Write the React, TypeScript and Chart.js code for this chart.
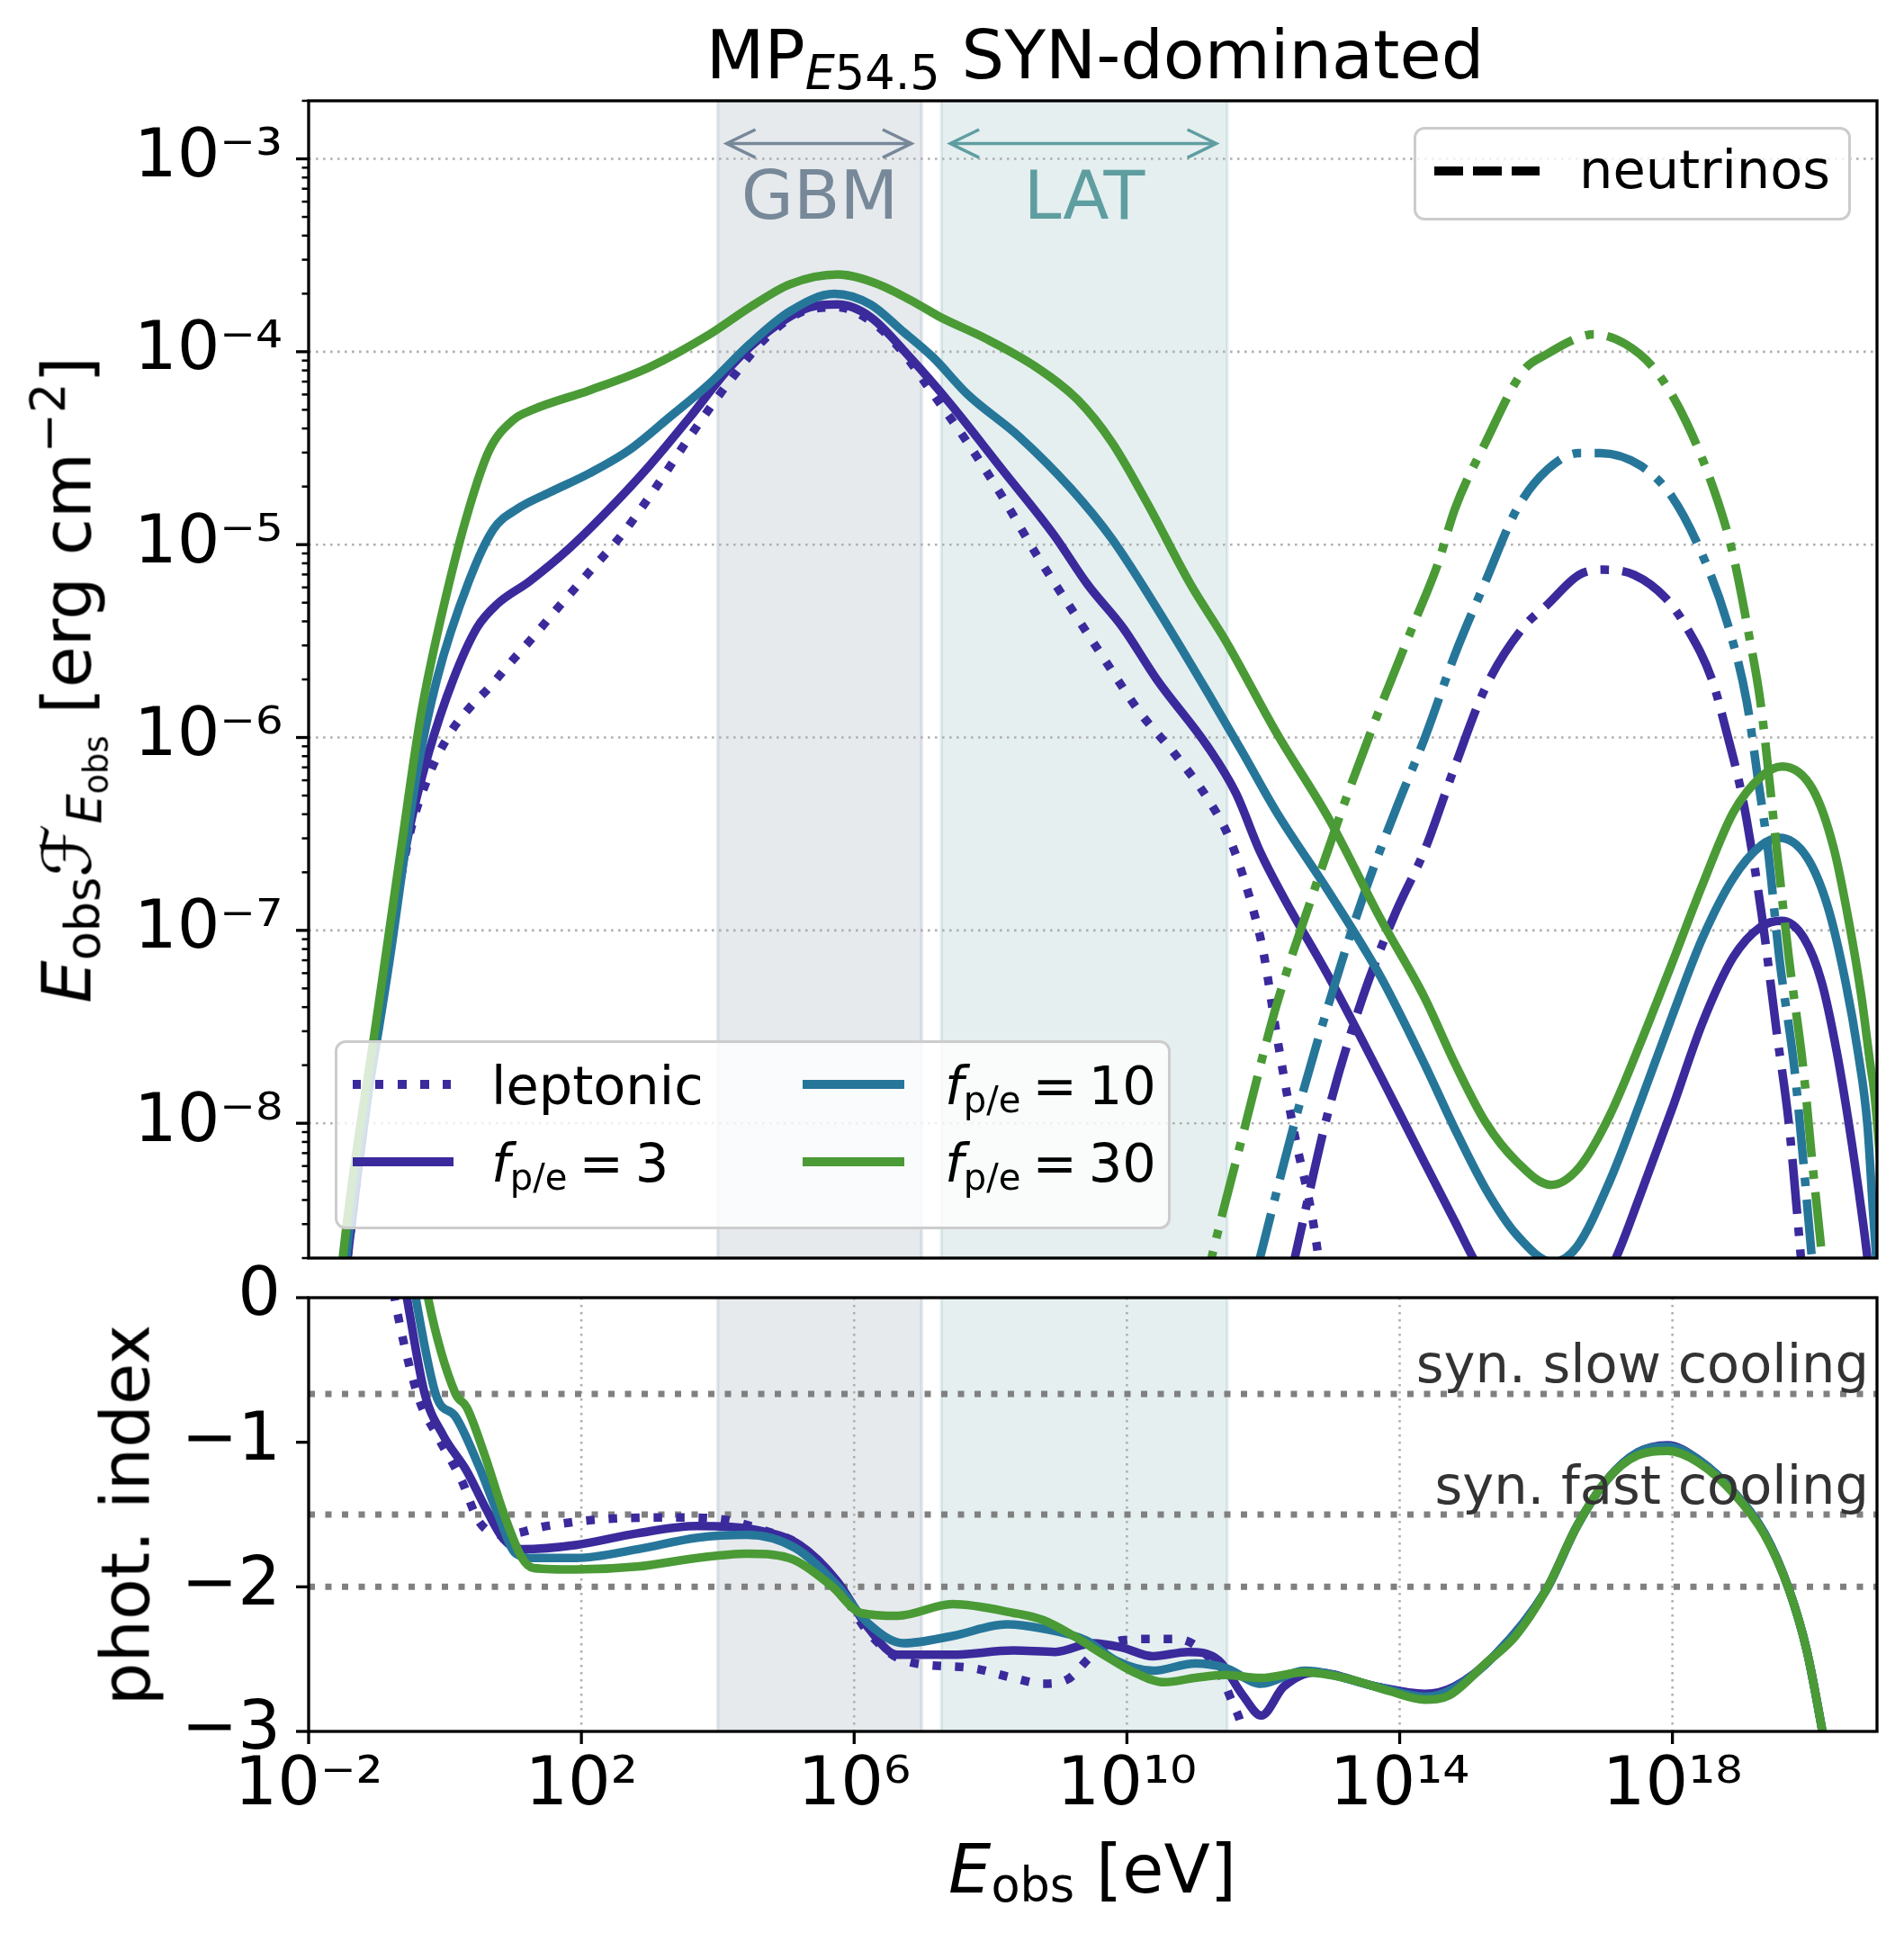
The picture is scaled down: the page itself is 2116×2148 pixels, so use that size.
import React, { useEffect, useRef } from "react";
import { Chart, registerables } from "chart.js";

Chart.register(...registerables);

// ====================== DATA ======================
// SED curves: [log10(E_obs / eV), log10(E F_E / erg cm^-2)]
const sedLeptonic = [
  [-1.65, -9.5], [-1.43, -8.7], [-0.82, -7.1], [-0.53, -6.52], [-0.24, -6.2], [0.07, -5.98],
  [0.35, -5.85], [0.65, -5.74], [0.94, -5.62], [1.29, -5.48], [1.65, -5.33], [2.12, -5.14],
  [2.59, -4.95], [3.06, -4.72], [3.59, -4.44], [4.18, -4.15], [4.76, -3.91], [5.35, -3.78],
  [5.76, -3.77], [6.24, -3.84], [6.66, -3.98], [7.16, -4.22], [7.66, -4.47], [8.17, -4.75],
  [8.67, -5.05], [9.18, -5.33], [9.68, -5.6], [10.19, -5.87], [10.69, -6.08], [11.19, -6.32],
  [11.5, -6.52], [11.8, -6.83], [12.0, -7.11], [12.2, -7.55], [12.46, -8.06], [12.71, -8.47],
  [12.81, -8.7], [13.0, -9.3],
];
const sedFpe3 = [
  [-1.65, -9.5], [-1.43, -8.7], [-0.82, -7.1], [-0.53, -6.49], [-0.24, -6.08], [0.12, -5.7],
  [0.47, -5.43], [0.76, -5.31], [1.24, -5.19], [1.82, -5.02], [2.41, -4.815], [3.0, -4.59],
  [3.59, -4.34], [4.18, -4.08], [4.76, -3.89], [5.35, -3.77], [5.76, -3.755], [6.24, -3.82],
  [6.82, -4.03], [7.41, -4.27], [8.17, -4.61], [8.93, -4.95], [9.43, -5.21], [9.94, -5.43],
  [10.44, -5.7], [11.19, -6.05], [11.6, -6.29], [11.95, -6.59], [12.3, -6.83], [12.96, -7.24],
  [13.72, -7.755], [14.36, -8.2], [14.81, -8.51], [15.08, -8.7], [15.6, -9.0], [16.2, -9.15],
  [16.8, -8.95], [17.17, -8.7], [17.53, -8.37], [17.99, -7.93], [18.44, -7.48], [18.89, -7.14],
  [19.3, -6.98], [19.6, -6.95], [19.93, -7.04], [20.19, -7.27], [20.41, -7.63], [20.59, -8.01],
  [20.77, -8.45], [20.86, -8.7], [21.0, -9.2],
];
const sedFpe10 = [
  [-1.65, -9.5], [-1.45, -8.7], [-0.79, -7.1], [-0.41, -6.18], [-0.12, -5.7], [0.35, -5.19],
  [0.71, -4.92], [1.06, -4.815], [1.53, -4.73], [2.12, -4.63], [2.7, -4.51], [3.29, -4.34],
  [3.88, -4.165], [4.47, -3.96], [5.06, -3.79], [5.71, -3.7], [6.24, -3.755], [6.7, -3.89],
  [7.16, -4.03], [7.66, -4.22], [8.42, -4.44], [9.18, -4.71], [9.78, -4.97], [10.44, -5.33],
  [11.19, -5.77], [11.7, -6.08], [12.2, -6.39], [12.96, -6.8], [13.72, -7.24], [14.36, -7.69],
  [14.81, -8.03], [15.26, -8.34], [15.72, -8.58], [16.25, -8.72], [16.6, -8.64], [17.08, -8.3],
  [17.53, -7.89], [17.99, -7.45], [18.44, -7.04], [18.89, -6.73], [19.3, -6.56], [19.57, -6.52],
  [19.97, -6.62], [20.28, -6.88], [20.54, -7.27], [20.72, -7.63], [20.86, -8.01], [20.94, -8.45],
  [21.02, -8.85],
];
const sedFpe30 = [
  [-1.7, -9.5], [-1.5, -8.7], [-1.0, -7.45], [-0.65, -6.59], [-0.35, -5.875], [0.0, -5.29],
  [0.35, -4.815], [0.65, -4.51], [1.0, -4.354], [1.29, -4.3], [2.12, -4.2], [3.0, -4.08],
  [3.88, -3.91], [4.47, -3.77], [5.06, -3.65], [5.76, -3.6], [6.35, -3.65], [6.94, -3.755],
  [7.26, -3.82], [7.92, -3.93], [8.67, -4.08], [9.28, -4.25], [9.78, -4.47], [10.29, -4.78],
  [10.94, -5.21], [11.45, -5.5], [12.2, -5.98], [12.96, -6.42], [13.72, -6.94], [14.36, -7.345],
  [14.81, -7.69], [15.26, -7.995], [15.72, -8.2], [16.22, -8.32], [16.63, -8.23], [17.08, -7.96],
  [17.53, -7.585], [17.99, -7.174], [18.44, -6.764], [18.89, -6.39], [19.31, -6.2], [19.61, -6.15],
  [20.06, -6.27], [20.37, -6.58], [20.59, -6.96], [20.77, -7.34], [20.9, -7.69], [20.96, -7.84],
  [21.05, -8.2],
];
// Neutrino curves: [log10(E_obs / eV), log10(E F_E / erg cm^-2)]
const nuFpe3 = [
  [12.1, -9.25], [12.46, -8.7], [12.96, -7.93], [13.46, -7.345], [13.95, -6.9], [14.36, -6.59],
  [14.81, -6.15], [15.26, -5.74], [15.81, -5.43], [16.17, -5.31], [16.63, -5.157], [16.99, -5.13],
  [17.44, -5.157], [17.9, -5.277], [18.21, -5.43], [18.58, -5.7], [18.8, -5.98], [18.99, -6.25],
  [19.09, -6.43], [19.31, -6.92], [19.53, -7.53], [19.71, -8.01], [19.88, -8.68], [20.0, -9.2],
];
const nuFpe10 = [
  [11.6, -9.2], [11.95, -8.7], [12.46, -7.995], [12.96, -7.38], [13.46, -6.83], [13.97, -6.35],
  [14.36, -6.01], [14.81, -5.57], [15.26, -5.19], [15.72, -4.815], [16.17, -4.61], [16.63, -4.525],
  [16.94, -4.525], [17.53, -4.59], [17.99, -4.75], [18.44, -5.054], [18.8, -5.4], [19.09, -5.815],
  [19.26, -6.23], [19.4, -6.58], [19.57, -7.15], [19.79, -7.72], [19.92, -8.2], [20.04, -8.68],
  [20.2, -9.3],
];
const nuFpe30 = [
  [10.8, -9.4], [11.24, -8.7], [11.7, -8.06], [12.2, -7.38], [12.71, -6.83], [13.21, -6.32],
  [13.72, -5.84], [14.22, -5.4], [14.56, -5.1], [14.81, -4.815], [15.26, -4.47], [15.81, -4.1],
  [16.17, -4.01], [16.63, -3.926], [16.85, -3.91], [17.31, -3.96], [17.76, -4.1], [18.21, -4.37],
  [18.67, -4.78], [18.89, -5.054], [19.12, -5.465], [19.29, -5.815], [19.53, -6.58], [19.71, -7.15],
  [19.92, -7.72], [20.05, -8.2], [20.19, -8.68], [20.35, -9.3],
];
// Photon index: [log10(E_obs / eV), index]
const idxLeptonic = [
  [-0.9, 0.5], [-0.74, 0], [-0.39, -0.69], [-0.12, -0.95], [0.24, -1.26], [0.5, -1.55],
  [0.86, -1.64], [1.48, -1.58], [2.37, -1.53], [3.52, -1.52], [4.15, -1.54], [4.68, -1.61],
  [5.2, -1.71], [5.75, -1.99], [6.2, -2.31], [6.73, -2.51], [7.7, -2.56], [8.33, -2.63],
  [8.77, -2.67], [9.13, -2.64], [9.5, -2.47], [9.93, -2.37], [10.38, -2.36], [10.73, -2.36],
  [11.1, -2.44], [11.35, -2.59], [11.53, -2.78], [11.7, -3.0], [11.8, -3.3],
];
const idxFpe3 = [
  [-0.75, 0.5], [-0.56, 0], [-0.3, -0.66], [-0.03, -0.95], [0.32, -1.2], [0.59, -1.45],
  [0.86, -1.67], [1.13, -1.74], [1.93, -1.71], [2.82, -1.63], [3.7, -1.58], [4.6, -1.61],
  [5.2, -1.71], [5.75, -1.96], [6.2, -2.28], [6.64, -2.47], [7.44, -2.47], [8.33, -2.44],
  [8.95, -2.45], [9.5, -2.39], [9.93, -2.42], [10.38, -2.48], [10.9, -2.45], [11.35, -2.51],
  [11.7, -2.75], [11.97, -2.89], [12.3, -2.69], [12.77, -2.59], [13.66, -2.69], [14.37, -2.74],
  [14.8, -2.69], [15.4, -2.47], [16.15, -2.02], [16.6, -1.58], [17.04, -1.26], [17.49, -1.07],
  [17.93, -1.02], [18.38, -1.12], [18.91, -1.35], [19.35, -1.63], [19.71, -2.02], [19.97, -2.44],
  [20.2, -3.0], [20.35, -3.4],
];
const idxFpe10 = [
  [-0.6, 0.5], [-0.43, 0], [-0.12, -0.69], [0.15, -0.82], [0.5, -1.17], [0.77, -1.49],
  [1.04, -1.77], [1.3, -1.8], [1.93, -1.8], [2.82, -1.74], [3.7, -1.66], [4.42, -1.64],
  [5.13, -1.73], [5.75, -1.99], [6.2, -2.25], [6.73, -2.39], [7.44, -2.34], [8.24, -2.26],
  [8.77, -2.29], [9.4, -2.37], [9.84, -2.51], [10.38, -2.58], [11.0, -2.53], [11.44, -2.56],
  [11.97, -2.67], [12.6, -2.58], [13.66, -2.69], [14.37, -2.76], [14.8, -2.7], [15.4, -2.47],
  [16.15, -2.02], [16.6, -1.58], [17.04, -1.26], [17.49, -1.07], [17.93, -1.03], [18.38, -1.12],
  [18.91, -1.35], [19.35, -1.63], [19.71, -2.02], [19.97, -2.44], [20.2, -3.0], [20.35, -3.4],
];
const idxFpe30 = [
  [-0.42, 0.5], [-0.25, 0], [0.15, -0.66], [0.32, -0.76], [0.59, -1.1], [0.86, -1.49],
  [1.13, -1.8], [1.3, -1.87], [1.93, -1.88], [2.82, -1.86], [3.7, -1.8], [4.42, -1.77],
  [5.04, -1.8], [5.66, -1.99], [6.1, -2.18], [6.64, -2.2], [7.44, -2.12], [8.33, -2.18],
  [8.77, -2.23], [9.22, -2.34], [9.66, -2.47], [10.1, -2.59], [10.55, -2.66], [11.0, -2.63],
  [11.44, -2.61], [11.97, -2.63], [12.6, -2.59], [13.2, -2.63], [13.84, -2.72], [14.37, -2.78],
  [14.73, -2.75], [15.26, -2.53], [15.7, -2.34], [16.15, -2.02], [16.6, -1.58], [17.04, -1.26],
  [17.49, -1.09], [17.93, -1.06], [18.38, -1.14], [18.91, -1.36], [19.35, -1.64], [19.71, -2.02],
  [19.97, -2.44], [20.2, -3.0], [20.35, -3.4],
];

// Axes / ticks
const xLogMin = -2;
const xLogMax = 21;
const topYMin = 2e-9;
const topYMax = 2e-3;
const topYDecades = [-9, -8, -7, -6, -5, -4, -3];
const minorMantissas = [1, 2, 3, 4, 5, 6, 7, 8, 9];
const bottomXTickExps = [-2, 2, 6, 10, 14, 18];
const bottomYTicks = [-3, -2, -1, 0];

// Instrument bands (log10 E/eV)
const instrumentNames = ["GBM", "LAT"];
const instrumentLogLo = [4.0, 7.28];
const instrumentLogHi = [6.99, 11.47];
const arrowLogLo = [4.13, 7.41];
const arrowLogHi = [6.84, 11.31];
const arrowFlux = 1.2e-3;
const instrumentLabelFlux = 4.9e-4;

// Reference photon indices
const coolingIndex = [-2 / 3, -1.5, -2];
const coolingLabels = ["syn. slow cooling", "syn. fast cooling"];
const coolingLabelIdx = [-0.583, -1.423];
const coolingLabelLogE = 20.88;

// ====================== STYLE ======================
const FONT = "'DejaVu Sans', 'Noto Sans', sans-serif";
const BIG = 75;
const SMALL = 59;
const C_F3 = "#3a2a9c";
const C_F10 = "#26769a";
const C_F30 = "#4a9a36";
const LW = 9.5;
const DOT = [9.5, 15.5];
const DASHDOT = [61, 15, 9.5, 15];
const instrumentColor = ["#778899", "#5f9ea0"];
const instrumentFill = ["rgba(119,136,153,0.18)", "rgba(95,158,160,0.16)"];
const GRID_COLOR = "#b0b0b0";

const PLOT_LEFT = 343;
const PLOT_RIGHT = 2086;
const TOP_PLOT_TOP = 112;
const TOP_PLOT_BOTTOM = 1398;
const BOT_PLOT_TOP = 1442;
const BOT_PLOT_BOTTOM = 1924;
const TOP_CANVAS_H = 1420;
const BOT_CANVAS_TOP = 1395;
const BOT_CANVAS_H = 2148 - BOT_CANVAS_TOP;

const SUP: Record<string, string> = {
  "-": "\u207B", "0": "\u2070", "1": "\u00B9", "2": "\u00B2", "3": "\u00B3", "4": "\u2074",
  "5": "\u2075", "6": "\u2076", "7": "\u2077", "8": "\u2078", "9": "\u2079",
};
const pow10Label = (e: number) => "10" + String(e).split("").map((c) => SUP[c]).join("");
const isDecade = (v: number) => {
  const l = Math.log10(v);
  return Math.abs(l - Math.round(l)) < 1e-6;
};
const toPts = (arr: number[][], logY: boolean) =>
  arr.map(([e, v]) => ({ x: Math.pow(10, e), y: logY ? Math.pow(10, v) : v }));

function lineDs(label: string, data: any, color: string, dash: number[], order: number) {
  return {
    label,
    data,
    borderColor: color,
    backgroundColor: color,
    borderWidth: LW,
    borderDash: dash,
    borderCapStyle: "butt",
    borderJoinStyle: "round",
    pointRadius: 0,
    fill: false,
    cubicInterpolationMode: "monotone",
    clip: 0,
    order,
  };
}

function drawBands(ctx: CanvasRenderingContext2D, x: any, a: any) {
  for (let i = 0; i < instrumentNames.length; i++) {
    const x0 = x.getPixelForValue(Math.pow(10, instrumentLogLo[i]));
    const x1 = x.getPixelForValue(Math.pow(10, instrumentLogHi[i]));
    ctx.fillStyle = instrumentFill[i];
    ctx.fillRect(x0, a.top, x1 - x0, a.bottom - a.top);
    ctx.strokeStyle = instrumentFill[i];
    ctx.lineWidth = 3.5;
    ctx.setLineDash([]);
    ctx.beginPath();
    ctx.moveTo(x0, a.top);
    ctx.lineTo(x0, a.bottom);
    ctx.moveTo(x1, a.top);
    ctx.lineTo(x1, a.bottom);
    ctx.stroke();
  }
}

function drawFrame(ctx: CanvasRenderingContext2D, a: any) {
  ctx.setLineDash([]);
  ctx.strokeStyle = "#000";
  ctx.lineWidth = 3.3;
  ctx.strokeRect(a.left, a.top, a.right - a.left, a.bottom - a.top);
}

function drawYTicks(ctx: CanvasRenderingContext2D, y: any, a: any) {
  ctx.setLineDash([]);
  ctx.strokeStyle = "#000";
  for (const t of y.ticks) {
    const py = y.getPixelForValue(t.value);
    if (py < a.top - 1 || py > a.bottom + 1) continue;
    const major = t.label !== "";
    ctx.lineWidth = major ? 3.3 : 2.5;
    ctx.beginPath();
    ctx.moveTo(a.left, py);
    ctx.lineTo(a.left - (major ? 14 : 7.5), py);
    ctx.stroke();
  }
}

const topDecor = {
  id: "topDecor",
  beforeDatasetsDraw(chart: any) {
    const { ctx, chartArea: a } = chart;
    const x = chart.scales.x;
    const y = chart.scales.y;
    ctx.save();
    drawBands(ctx, x, a);
    ctx.strokeStyle = GRID_COLOR;
    ctx.lineWidth = 2.6;
    ctx.setLineDash([2.6, 5.4]);
    for (const t of y.ticks) {
      if (!t.label) continue;
      const py = y.getPixelForValue(t.value);
      ctx.beginPath();
      ctx.moveTo(a.left, py);
      ctx.lineTo(a.right, py);
      ctx.stroke();
    }
    ctx.restore();
  },
  afterDatasetsDraw(chart: any) {
    const { ctx, chartArea: a } = chart;
    const x = chart.scales.x;
    const y = chart.scales.y;
    ctx.save();
    const ay = y.getPixelForValue(arrowFlux);
    const ty = y.getPixelForValue(instrumentLabelFlux);
    for (let i = 0; i < instrumentNames.length; i++) {
      const x0 = x.getPixelForValue(Math.pow(10, arrowLogLo[i]));
      const x1 = x.getPixelForValue(Math.pow(10, arrowLogHi[i]));
      ctx.strokeStyle = instrumentColor[i];
      ctx.lineWidth = 3.5;
      ctx.setLineDash([]);
      ctx.lineCap = "butt";
      ctx.beginPath();
      ctx.moveTo(x0, ay);
      ctx.lineTo(x1, ay);
      ctx.moveTo(x0 + 32, ay - 15.6);
      ctx.lineTo(x0, ay);
      ctx.lineTo(x0 + 32, ay + 15.6);
      ctx.moveTo(x1 - 32, ay - 15.6);
      ctx.lineTo(x1, ay);
      ctx.lineTo(x1 - 32, ay + 15.6);
      ctx.stroke();
      const b0 = x.getPixelForValue(Math.pow(10, instrumentLogLo[i]));
      const b1 = x.getPixelForValue(Math.pow(10, instrumentLogHi[i]));
      ctx.fillStyle = instrumentColor[i];
      ctx.font = `${BIG}px ${FONT}`;
      ctx.textAlign = "center";
      ctx.textBaseline = "alphabetic";
      ctx.fillText(instrumentNames[i], (b0 + b1) / 2, ty);
    }
    drawFrame(ctx, a);
    drawYTicks(ctx, y, a);
    ctx.restore();
  },
};

const bottomDecor = {
  id: "bottomDecor",
  beforeDatasetsDraw(chart: any) {
    const { ctx, chartArea: a } = chart;
    const x = chart.scales.x;
    const y = chart.scales.y;
    ctx.save();
    drawBands(ctx, x, a);
    ctx.strokeStyle = GRID_COLOR;
    ctx.lineWidth = 2.6;
    ctx.setLineDash([2.6, 5.4]);
    for (const t of x.ticks) {
      const px = x.getPixelForValue(t.value);
      if (px <= a.left + 2 || px >= a.right - 2) continue;
      ctx.beginPath();
      ctx.moveTo(px, a.top);
      ctx.lineTo(px, a.bottom);
      ctx.stroke();
    }
    ctx.strokeStyle = "#808080";
    ctx.lineWidth = 7;
    ctx.setLineDash([7, 11.5]);
    for (const v of coolingIndex) {
      const py = y.getPixelForValue(v);
      ctx.beginPath();
      ctx.moveTo(a.left, py);
      ctx.lineTo(a.right, py);
      ctx.stroke();
    }
    ctx.restore();
  },
  afterDatasetsDraw(chart: any) {
    const { ctx, chartArea: a } = chart;
    const x = chart.scales.x;
    const y = chart.scales.y;
    ctx.save();
    ctx.fillStyle = "#333333";
    ctx.font = `${SMALL}px ${FONT}`;
    ctx.textAlign = "right";
    ctx.textBaseline = "alphabetic";
    for (let i = 0; i < coolingLabels.length; i++) {
      ctx.fillText(
        coolingLabels[i],
        x.getPixelForValue(Math.pow(10, coolingLabelLogE)),
        y.getPixelForValue(coolingLabelIdx[i])
      );
    }
    drawFrame(ctx, a);
    drawYTicks(ctx, y, a);
    ctx.setLineDash([]);
    ctx.lineWidth = 3.3;
    for (const t of x.ticks) {
      const px = x.getPixelForValue(t.value);
      ctx.beginPath();
      ctx.moveTo(px, a.bottom);
      ctx.lineTo(px, a.bottom + 14);
      ctx.stroke();
    }
    ctx.restore();
  },
};

const tickFont = { family: FONT, size: BIG };

function topConfig(): any {
  const yTicks: number[] = [];
  for (const d of topYDecades)
    for (const m of minorMantissas) {
      const v = m * Math.pow(10, d);
      if (v >= topYMin * 0.999 && v <= topYMax * 1.001) yTicks.push(v);
    }
  return {
    type: "line",
    data: {
      datasets: [
        lineDs("leptonic", toPts(sedLeptonic, true), C_F3, DOT, 7),
        lineDs("f3", toPts(sedFpe3, true), C_F3, [], 6),
        lineDs("nu f3", toPts(nuFpe3, true), C_F3, DASHDOT, 5),
        lineDs("f10", toPts(sedFpe10, true), C_F10, [], 4),
        lineDs("nu f10", toPts(nuFpe10, true), C_F10, DASHDOT, 3),
        lineDs("f30", toPts(sedFpe30, true), C_F30, [], 2),
        lineDs("nu f30", toPts(nuFpe30, true), C_F30, DASHDOT, 1),
      ],
    },
    options: {
      responsive: false,
      animation: false,
      devicePixelRatio: 1,
      events: [],
      layout: {
        padding: { left: 0, right: 2116 - PLOT_RIGHT, top: TOP_PLOT_TOP, bottom: TOP_CANVAS_H - TOP_PLOT_BOTTOM },
      },
      plugins: { legend: { display: false }, tooltip: { enabled: false }, title: { display: false } },
      scales: {
        x: {
          type: "logarithmic",
          min: Math.pow(10, xLogMin),
          max: Math.pow(10, xLogMax),
          display: false,
        },
        y: {
          type: "logarithmic",
          min: topYMin,
          max: topYMax,
          afterBuildTicks: (s: any) => {
            s.ticks = yTicks.map((v) => ({ value: v }));
          },
          afterFit: (s: any) => {
            s.width = PLOT_LEFT;
            s.paddingTop = 0;
            s.paddingBottom = 0;
          },
          ticks: {
            autoSkip: false,
            padding: 29,
            color: "#000",
            font: tickFont,
            callback: (v: number) => (isDecade(v) ? pow10Label(Math.round(Math.log10(v))) : ""),
          },
          grid: { display: false, drawTicks: false },
          border: { display: false },
        },
      },
    },
    plugins: [topDecor],
  };
}

function bottomConfig(): any {
  return {
    type: "line",
    data: {
      datasets: [
        lineDs("leptonic", toPts(idxLeptonic, false), C_F3, DOT, 4),
        lineDs("f3", toPts(idxFpe3, false), C_F3, [], 3),
        lineDs("f10", toPts(idxFpe10, false), C_F10, [], 2),
        lineDs("f30", toPts(idxFpe30, false), C_F30, [], 1),
      ],
    },
    options: {
      responsive: false,
      animation: false,
      devicePixelRatio: 1,
      events: [],
      layout: {
        padding: { left: 0, right: 2116 - PLOT_RIGHT, top: BOT_PLOT_TOP - BOT_CANVAS_TOP, bottom: 0 },
      },
      plugins: { legend: { display: false }, tooltip: { enabled: false }, title: { display: false } },
      scales: {
        x: {
          type: "logarithmic",
          position: "bottom",
          min: Math.pow(10, xLogMin),
          max: Math.pow(10, xLogMax),
          afterBuildTicks: (s: any) => {
            s.ticks = bottomXTickExps.map((e) => ({ value: Math.pow(10, e) }));
          },
          afterFit: (s: any) => {
            s.height = BOT_CANVAS_TOP + BOT_CANVAS_H - BOT_PLOT_BOTTOM;
            s.paddingLeft = 0;
            s.paddingRight = 0;
          },
          ticks: {
            autoSkip: false,
            maxRotation: 0,
            minRotation: 0,
            padding: 17,
            color: "#000",
            font: tickFont,
            callback: (v: number) => pow10Label(Math.round(Math.log10(v))),
          },
          grid: { display: false, drawTicks: false },
          border: { display: false },
        },
        y: {
          type: "linear",
          min: -3,
          max: 0,
          afterBuildTicks: (s: any) => {
            s.ticks = bottomYTicks.map((v) => ({ value: v }));
          },
          afterFit: (s: any) => {
            s.width = PLOT_LEFT;
            s.paddingTop = 0;
            s.paddingBottom = 0;
          },
          ticks: {
            autoSkip: false,
            padding: 31,
            color: "#000",
            font: tickFont,
            callback: (v: number) => (v === 0 ? "0" : "\u2212" + Math.abs(v)),
          },
          grid: { display: false, drawTicks: false },
          border: { display: false },
        },
      },
    },
    plugins: [bottomDecor],
  };
}

// ====================== HTML TEXT HELPERS ======================
const shift = (size: number, dy: number, scale = 0.7): React.CSSProperties => ({
  fontSize: size * scale,
  verticalAlign: `${dy}px`,
  lineHeight: 0,
});

function Label({ x, y, size, align = "left", color = "#000", children }: any) {
  const style: React.CSSProperties = {
    position: "absolute",
    top: y - 0.846 * size,
    fontSize: size,
    lineHeight: `${size}px`,
    color,
    whiteSpace: "nowrap",
  };
  if (align === "center") {
    style.left = x - 1000;
    style.width = 2000;
    style.textAlign = "center";
  } else {
    style.left = x;
  }
  return <div style={style}>{children}</div>;
}

function VLabel({ cx, cy, size, children }: any) {
  return (
    <div
      style={{
        position: "absolute",
        left: cx - 700,
        top: cy - size / 2,
        width: 1400,
        height: size,
        lineHeight: `${size}px`,
        fontSize: size,
        textAlign: "center",
        whiteSpace: "nowrap",
        transform: "rotate(-90deg)",
      }}
    >
      {children}
    </div>
  );
}

function Fpe({ n }: { n: string }) {
  return (
    <>
      <i>f</i>
      <span style={shift(SMALL, -9, 0.68)}>p/e</span>
      <span style={{ margin: "0 0.22em" }}>=</span>
      {n}
    </>
  );
}

function Sample({ x, y, w, color, pattern }: any) {
  let background = color;
  if (pattern === "dot")
    background = `repeating-linear-gradient(to right, ${color} 0 9.5px, transparent 9.5px 25px)`;
  if (pattern === "dash")
    background = `repeating-linear-gradient(to right, ${color} 0 32px, transparent 32px 43px)`;
  return (
    <div style={{ position: "absolute", left: x, top: y - LW / 2, width: w, height: LW, background }} />
  );
}

const legendBox = (l: number, t: number, w: number, h: number): React.CSSProperties => ({
  position: "absolute",
  left: l,
  top: t,
  width: w,
  height: h,
  boxSizing: "border-box",
  border: "3.3px solid #cccccc",
  borderRadius: 12,
  background: "rgba(255,255,255,0.8)",
});

export default function App() {
  const topRef = useRef<HTMLCanvasElement>(null);
  const botRef = useRef<HTMLCanvasElement>(null);

  useEffect(() => {
    const top = new Chart(topRef.current as HTMLCanvasElement, topConfig());
    const bot = new Chart(botRef.current as HTMLCanvasElement, bottomConfig());
    return () => {
      top.destroy();
      bot.destroy();
    };
  }, []);

  return (
    <div
      style={{
        position: "absolute",
        left: 0,
        top: 0,
        width: 2116,
        height: 2148,
        overflow: "hidden",
        background: "#fff",
        fontFamily: FONT,
        color: "#000",
      }}
    >
      <canvas
        ref={topRef}
        width={2116}
        height={TOP_CANVAS_H}
        style={{ position: "absolute", left: 0, top: 0, width: 2116, height: TOP_CANVAS_H }}
      />
      <canvas
        ref={botRef}
        width={2116}
        height={BOT_CANVAS_H}
        style={{ position: "absolute", left: 0, top: BOT_CANVAS_TOP, width: 2116, height: BOT_CANVAS_H }}
      />

      {/* Title */}
      <Label x={1217} y={87} size={BIG} align="center">
        MP
        <span style={shift(BIG, -12)}>
          <i>E</i>54.5
        </span>{" "}
        SYN-dominated
      </Label>

      {/* Y labels */}
      <VLabel cx={75} cy={755} size={BIG}>
        <i>E</i>
        <span style={shift(BIG, -10)}>obs</span>
        <i>ℱ</i>
        <span style={shift(BIG, -12)}>
          <i>E</i>
          <span style={shift(BIG * 0.7, -7)}>obs</span>
        </span>{" "}
        [erg cm<span style={shift(BIG, 29)}>−2</span>]
      </VLabel>
      <VLabel cx={140} cy={1683} size={BIG}>
        phot. index
      </VLabel>

      {/* X label */}
      <Label x={1214} y={2103} size={BIG} align="center">
        <i>E</i>
        <span style={shift(BIG, -10)}>obs</span> [eV]
      </Label>

      {/* Legend: models */}
      <div style={legendBox(372, 1156, 929, 210)} />
      <Sample x={392} y={1205} w={112} color={C_F3} pattern="dot" />
      <Label x={546} y={1227} size={SMALL}>
        leptonic
      </Label>
      <Sample x={392} y={1291} w={112} color={C_F3} />
      <Label x={546} y={1313} size={SMALL}>
        <Fpe n="3" />
      </Label>
      <Sample x={892} y={1205} w={113} color={C_F10} />
      <Label x={1050} y={1227} size={SMALL}>
        <Fpe n="10" />
      </Label>
      <Sample x={892} y={1291} w={113} color={C_F30} />
      <Label x={1050} y={1313} size={SMALL}>
        <Fpe n="30" />
      </Label>

      {/* Legend: neutrinos */}
      <div style={legendBox(1571, 141, 486, 104)} />
      <Sample x={1594} y={190} w={117} color="#000" pattern="dash" />
      <Label x={1755} y={209} size={SMALL}>
        neutrinos
      </Label>
    </div>
  );
}
